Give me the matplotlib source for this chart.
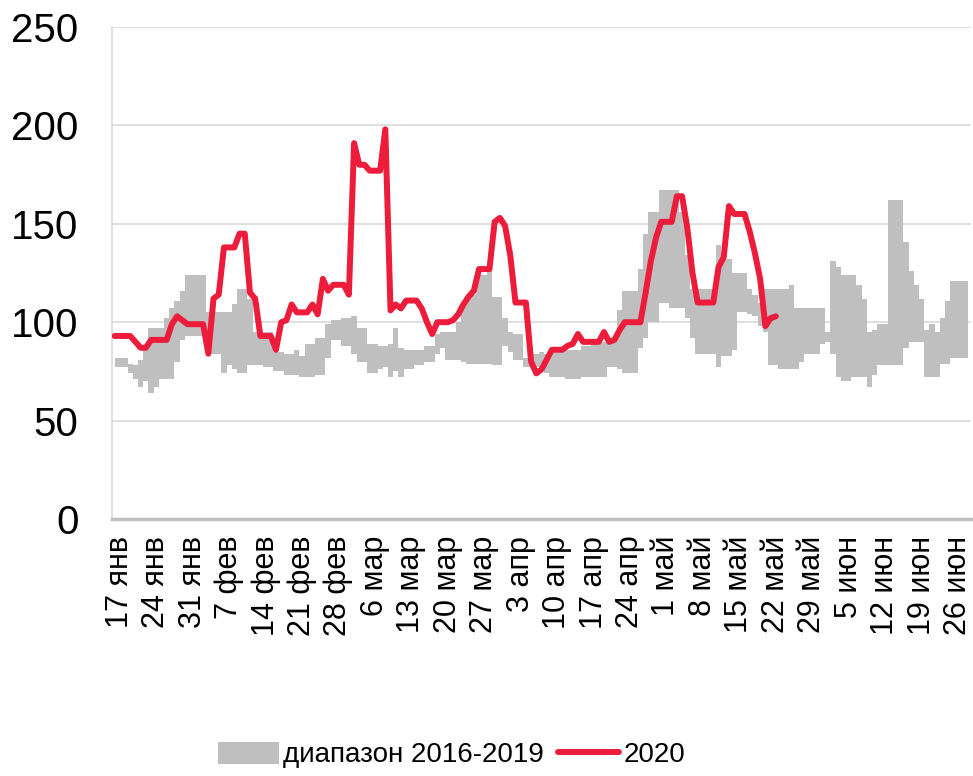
import numpy as np
import matplotlib
matplotlib.use("Agg")
import matplotlib.pyplot as plt
from matplotlib.patches import Patch
from matplotlib.lines import Line2D

plt.rcParams['font.family'] = ['Liberation Sans', 'DejaVu Sans']

# --- данные: дни отсчитываются от 17 янв (день 0), ряды начинаются с 16 янв (день -1)
band_start = -1
band_hi = [82, 82, 82, 79, 78, 81, 87, 97, 97, 97,
           102, 107, 111, 116, 124, 124, 124, 124, 105, 105,
           105, 105, 105, 109, 117, 117, 112, 95, 95, 95,
           95, 85, 85, 84, 84, 86, 83, 89, 89, 92,
           92, 99, 101, 101, 102, 102, 103, 97, 97, 89,
           89, 88, 88, 89, 97, 87, 86, 86, 86, 86,
           88, 88, 94, 95, 95, 95, 100, 110, 114, 114,
           124, 124, 127, 113, 113, 102, 95, 94, 94, 82,
           84, 84, 85, 84, 86, 86, 86, 86, 86, 86,
           88, 88, 90, 90, 90, 91, 91, 106, 116, 116,
           116, 127, 145, 156, 156, 167, 167, 167, 167, 156,
           134, 117, 117, 117, 117, 117, 139, 132, 132, 125,
           125, 125, 117, 114, 110, 117, 117, 117, 117, 117,
           119, 107, 107, 107, 107, 107, 107, 95, 131, 128,
           124, 124, 124, 119, 112, 95, 96, 99, 99, 162,
           162, 162, 141, 126, 119, 112, 96, 99, 95, 102,
           111, 121, 121, 121, 121]
band_lo = [77, 77, 77, 74, 71, 67, 70, 64, 67, 71,
           71, 71, 80, 91, 93, 93, 93, 93, 86, 84,
           84, 74, 78, 76, 74, 74, 78, 78, 78, 77,
           77, 75, 75, 73, 73, 73, 72, 72, 72, 73,
           73, 82, 91, 91, 88, 88, 84, 80, 80, 74,
           74, 76, 77, 72, 75, 72, 76, 76, 78, 78,
           80, 80, 84, 87, 81, 81, 81, 80, 79, 79,
           79, 79, 79, 78, 78, 88, 85, 81, 81, 77,
           77, 77, 77, 74, 72, 72, 72, 71, 71, 71,
           72, 72, 72, 72, 72, 77, 77, 76, 74, 74,
           74, 87, 92, 100, 100, 110, 110, 107, 107, 107,
           102, 92, 84, 84, 84, 84, 77, 83, 83, 86,
           105, 105, 104, 103, 98, 95, 78, 78, 76, 76,
           76, 76, 80, 84, 84, 84, 89, 90, 84, 72,
           70, 70, 72, 72, 72, 67, 73, 78, 78, 78,
           78, 78, 87, 90, 90, 90, 72, 72, 72, 79,
           79, 82, 82, 82, 82]

y2020_start = -1
y2020 = [93, 93, 93, 93, 90, 87, 87, 91, 91, 91,
         91, 99, 103, 101, 99, 99, 99, 99, 84, 112,
         114, 138, 138, 138, 145, 145, 115, 112, 93, 93,
         93, 86, 100, 101, 109, 105, 105, 105, 109, 104,
         122, 116, 119, 119, 119, 114, 191, 180, 180, 177,
         177, 177, 198, 106, 109, 107, 111, 111, 111, 107,
         100, 94, 100, 100, 100, 101, 104, 109, 113, 116,
         127, 127, 127, 151, 153, 149, 134, 110, 110, 110,
         80, 74, 76, 81, 86, 86, 86, 88, 89, 94,
         90, 90, 90, 90, 95, 90, 91, 96, 100, 100,
         100, 100, 115, 131, 143, 151, 151, 151, 164, 164,
         148, 125, 110, 110, 110, 110, 128, 133, 159, 155,
         155, 155, 146, 135, 122, 98, 102, 103]

tick_days = list(range(0, 162, 7))
tick_labels = ['17 янв', '24 янв', '31 янв', '7 фев', '14 фев', '21 фев',
               '28 фев', '6 мар', '13 мар', '20 мар', '27 мар', '3 апр',
               '10 апр', '17 апр', '24 апр', '1 май', '8 май', '15 май',
               '22 май', '29 май', '5 июн', '12 июн', '19 июн', '26 июн']

gray = '#BFBFBF'
red = '#EC1C3A'

fig = plt.figure(figsize=(9.73, 7.76), dpi=100)
ax = fig.add_axes([112/973, 1-519/776, (971-112)/973, (519-27)/776])

xb = np.arange(band_start, band_start + len(band_hi))
ax.fill_between(xb, band_lo, band_hi, step='mid', color=gray, lw=0, zorder=2)
xr = np.arange(y2020_start, y2020_start + len(y2020))
ax.plot(xr, y2020, color=red, lw=4.3, solid_joinstyle='round',
        solid_capstyle='round', zorder=3)

ax.set_xlim(-1.5, 163.5)
ax.set_ylim(0, 250)
ax.set_yticks(range(0, 251, 50))
ax.yaxis.grid(True, color='#D9D9D9', lw=1.2, zorder=0)
ax.set_axisbelow(True)
ax.set_xticks(tick_days)
ax.set_xticklabels(tick_labels, rotation=90, va='top', ha='center')
ax.tick_params(axis='x', length=0, pad=12, labelsize=22)
ax.tick_params(axis='y', length=0, pad=24, labelsize=29)
for s in ['top', 'right']:
    ax.spines[s].set_visible(False)
ax.spines['left'].set_color('#D9D9D9')
ax.spines['left'].set_linewidth(1.2)
ax.spines['bottom'].set_color('#BFBFBF')
ax.spines['bottom'].set_linewidth(2.5)

handles = [Patch(facecolor=gray, edgecolor='none'),
           Line2D([0], [0], color=red, lw=4.3, solid_capstyle='round')]
fig.legend(handles, ['диапазон 2016-2019', '2020'], loc='center',
           bbox_to_anchor=(0.464, 0.027), ncol=2, frameon=False, fontsize=20,
           handlelength=2.2, handleheight=0.85, handletextpad=0.15,
           columnspacing=0.5)

fig.savefig('out.png', dpi=100)
